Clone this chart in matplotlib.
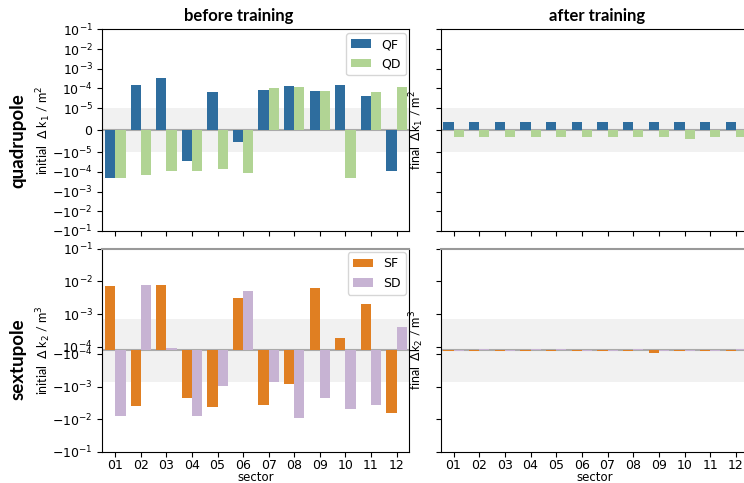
import numpy as np
import matplotlib
matplotlib.use('Agg')
import matplotlib.pyplot as plt
from matplotlib.ticker import NullLocator

# sectors of the ring
sectors = ['01', '02', '03', '04', '05', '06', '07', '08', '09', '10', '11', '12']

# quadrupole strength deviations (1/m^2)
qf_before = [-2.0e-4, 1.45e-4, 3.3e-4, -3.0e-5, 6.4e-5, -5.2e-6,
             8.3e-5, 1.35e-4, 7.4e-5, 1.45e-4, 4.0e-5, -8.6e-5]
qd_before = [-2.1e-4, -1.37e-4, -9.6e-5, -9.6e-5, -7.6e-5, -1.2e-4,
             1.06e-4, 1.15e-4, 7.4e-5, -2.0e-4, 6.6e-5, 1.15e-4]
qf_after = [3.5e-6, 3.5e-6, 3.5e-6, 3.5e-6, 3.5e-6, 3.5e-6,
            3.5e-6, 3.5e-6, 3.5e-6, 3.5e-6, 3.5e-6, 3.5e-6]
qd_after = [-3.3e-6, -3.3e-6, -3.3e-6, -3.3e-6, -3.3e-6, -3.3e-6,
            -3.3e-6, -3.3e-6, -3.3e-6, -4.0e-6, -3.3e-6, -3.3e-6]

# sextupole strength deviations (1/m^3)
sf_before = [7.3e-3, -4.0e-3, 7.9e-3, -2.2e-3, -4.3e-3, 3.0e-3,
             -3.6e-3, -8.1e-4, 6.2e-3, 1.8e-4, 2.0e-3, -6.2e-3]
sd_before = [-7.7e-3, 7.9e-3, 6.0e-5, -7.7e-3, -9.4e-4, 4.9e-3,
             -7.0e-4, -8.9e-3, -2.2e-3, -5.0e-3, -3.7e-3, 3.9e-4]
sf_after = [-3.0e-5, -3.0e-5, -2.5e-5, -3.0e-5, -3.0e-5, -2.5e-5,
            -2.5e-5, -3.0e-5, -7.0e-5, -3.0e-5, -2.5e-5, -3.0e-5]
sd_after = [-1.5e-5, 3.0e-5, -1.5e-5, 3.0e-5, 3.0e-5, -1.5e-5,
            -1.5e-5, 3.0e-5, -1.5e-5, -1.5e-5, -1.5e-5, 3.0e-5]

quad_tol = 1e-5
sext_tol = 7e-4

c_qf = '#2e6d9e'
c_qd = '#b1d494'
c_sf = '#e07f22'
c_sd = '#c7b3d3'

W, H = 744, 483
fig = plt.figure(figsize=(W / 100, H / 100), dpi=100)


def px_axes(x0, x1, y0, y1):
    # pixel box (from top-left) -> figure axes
    return fig.add_axes([x0 / W, 1 - y1 / H, (x1 - x0) / W, (y1 - y0) / H])


ax_qb = px_axes(102.5, 409.3, 29.3, 231)
ax_qa = px_axes(440.7, 748.7, 29.3, 231)
ax_sb = px_axes(102.5, 409.3, 248.7, 452)
ax_sa = px_axes(440.7, 748.7, 248.7, 452)

x = np.arange(len(sectors))
w = 0.4

quad_ticks = [1e-1, 1e-2, 1e-3, 1e-4, 1e-5, 0, -1e-5, -1e-4, -1e-3, -1e-2, -1e-1]
sext_ticks = [1e-1, 1e-2, 1e-3, 1e-4, -1e-4, -1e-3, -1e-2, -1e-1]


def draw(ax, a, b, ca, cb, la, lb, linthresh, linscale, tol, ticks):
    ax.set_yscale('symlog', linthresh=linthresh, linscale=linscale)
    ax.axhspan(-tol, tol, color='#f1f1f1', zorder=0, lw=0)
    ax.axhline(0, color='#aaaaaa', lw=1.5, zorder=1)
    ax.bar(x - w / 2, a, width=w, color=ca, label=la, zorder=2)
    ax.bar(x + w / 2, b, width=w, color=cb, label=lb, zorder=2)
    ax.set_ylim(-0.1, 0.1)
    ax.set_xlim(-0.5, 11.5)
    ax.set_yticks(ticks)
    ax.yaxis.set_minor_locator(NullLocator())
    ax.set_xticks(x)
    ax.set_xticklabels(sectors)
    ax.tick_params(labelsize=9)
    ax.tick_params(axis='x', pad=1.5)


draw(ax_qb, qf_before, qd_before, c_qf, c_qd, 'QF', 'QD', 1e-5, 1.0, quad_tol, quad_ticks)
draw(ax_qa, qf_after, qd_after, c_qf, c_qd, 'QF', 'QD', 1e-5, 1.0, quad_tol, quad_ticks)
draw(ax_sb, sf_before, sd_before, c_sf, c_sd, 'SF', 'SD', 1e-4, 0.1, sext_tol, sext_ticks)
draw(ax_sa, sf_after, sd_after, c_sf, c_sd, 'SF', 'SD', 1e-4, 0.1, sext_tol, sext_ticks)

for ax in (ax_qb, ax_qa):
    ax.tick_params(labelbottom=False)
for ax in (ax_qa, ax_sa):
    ax.tick_params(labelleft=False)
for ax in (ax_sb, ax_sa):
    ax.spines['top'].set_color('#999999')
    ax.spines['top'].set_linewidth(1.5)
    ax.set_xlabel('sector', fontsize=8.5, labelpad=-0.5)

leg_kw = dict(loc='upper right', fontsize=9, handlelength=1.6, borderaxespad=0.3)
ax_qb.legend(**leg_kw)
ax_sb.legend(**leg_kw)

lab_kw = dict(fontsize=9, family='Lato')
ax_qb.set_ylabel('initial  $\\Delta$ k$_1$ / m$^2$', **lab_kw)
ax_sb.set_ylabel('initial  $\\Delta$ k$_2$ / m$^3$', **lab_kw)
ax_qa.set_ylabel('final  $\\Delta$k$_1$ / m$^2$', **lab_kw)
ax_sa.set_ylabel('final  $\\Delta$k$_2$ / m$^3$', **lab_kw)
ax_qb.yaxis.set_label_coords(-0.161, 0.5)
ax_sb.yaxis.set_label_coords(-0.161, 0.5)
ax_qa.yaxis.set_label_coords(-0.048, 0.5)
ax_sa.yaxis.set_label_coords(-0.048, 0.5)

title_kw = dict(fontsize=12, family='Lato', weight='bold', ha='center', va='center')
fig.text(239 / W, 1 - 15.5 / H, 'before training', **title_kw)
fig.text(597 / W, 1 - 15.5 / H, 'after training', **title_kw)
row_kw = dict(title_kw, fontsize=13.5)
fig.text(18 / W, 1 - 141 / H, 'quadrupole', rotation=90, **row_kw)
fig.text(18 / W, 1 - 359 / H, 'sextupole', rotation=90, **row_kw)

fig.savefig('out.png', dpi=100)
